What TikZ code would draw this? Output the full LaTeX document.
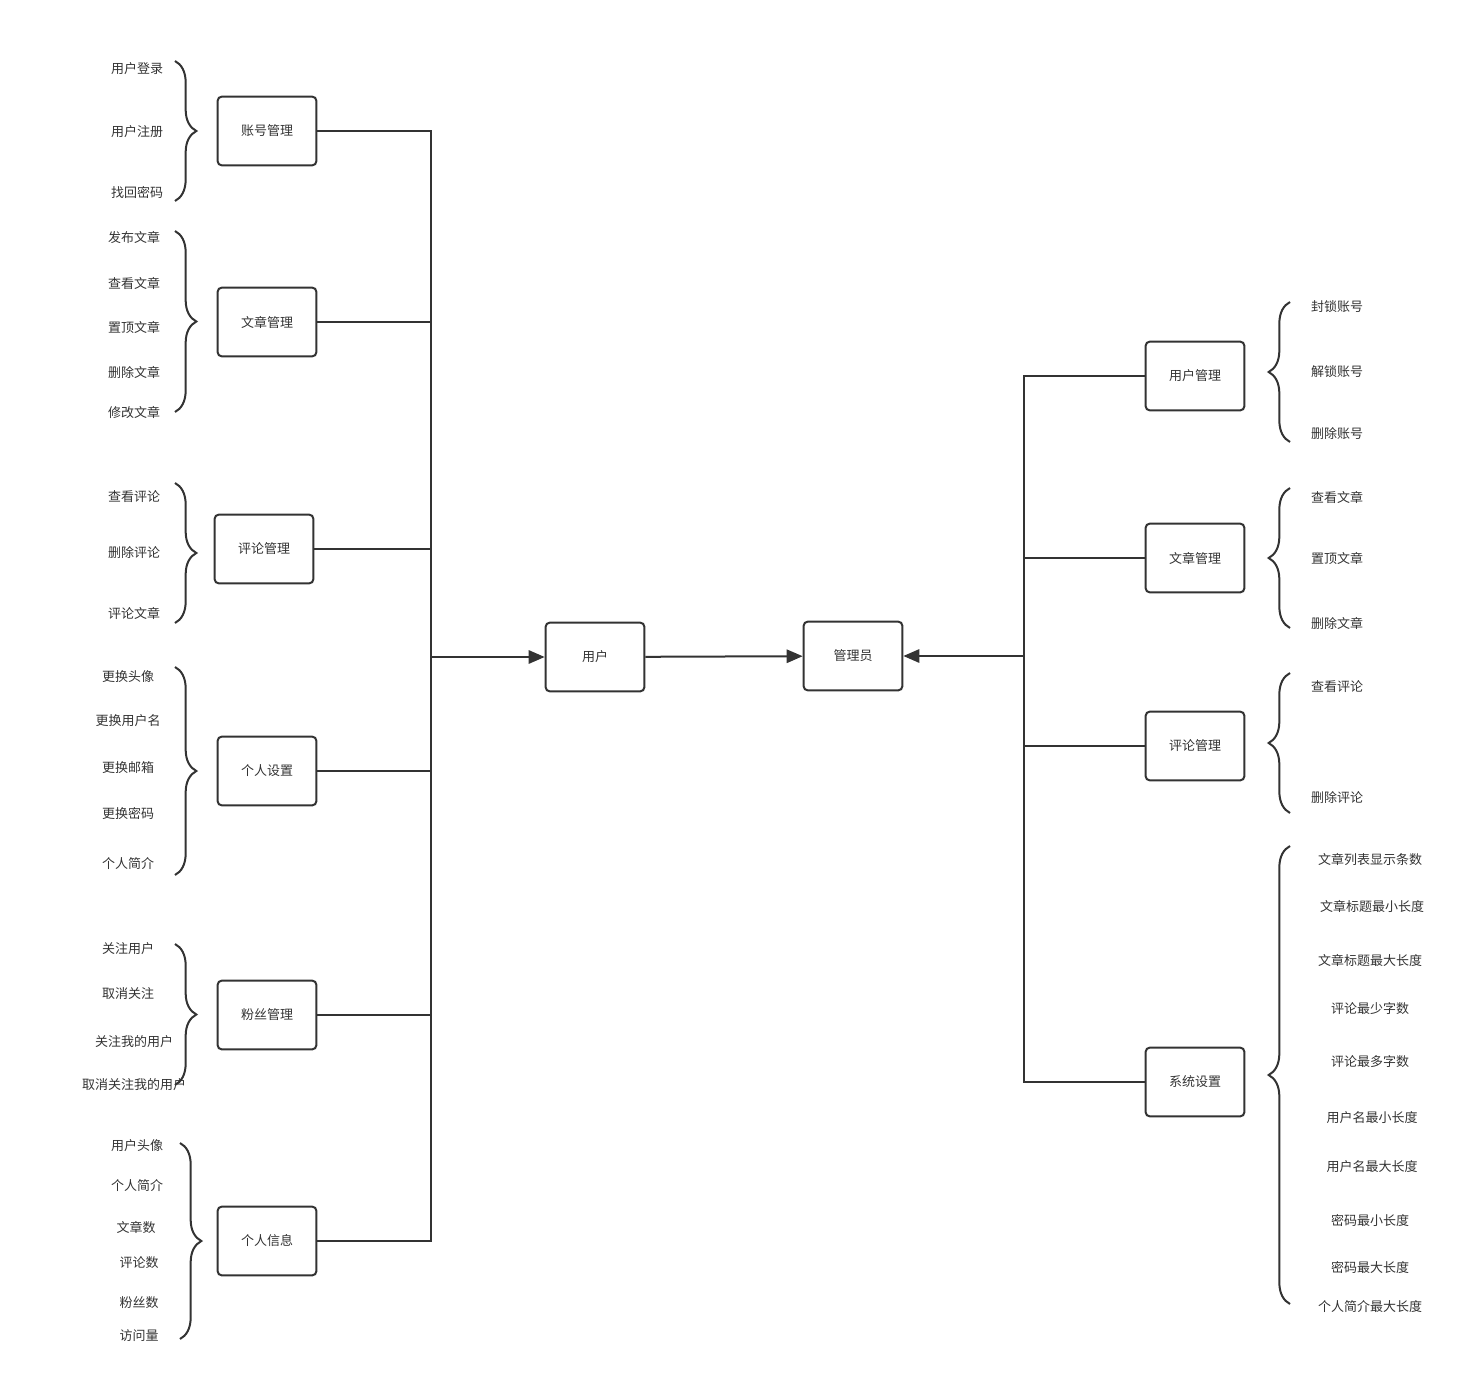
\documentclass[tikz,border=0pt]{standalone}
\usepackage{fontspec}
\setmainfont{Noto Sans CJK SC}
\usepackage{xcolor}
\usetikzlibrary{arrows.meta, decorations.pathreplacing, positioning}
\definecolor{ink}{HTML}{333333}

\begin{document}
\begin{tikzpicture}[x=0.75pt, y=-0.75pt,
        box/.style={draw=ink, line width=1.5pt, rounded corners=3pt, minimum width=74pt, minimum height=51.5pt, text=ink, font=\fontsize{9.75}{12}\selectfont},
        item/.style={text=ink, inner sep=0pt, font=\fontsize{9.75}{12}\selectfont},
        link/.style={draw=ink, line width=1.5pt},
        arr/.style={link, -{Triangle[length=12pt, width=10pt]}},
        rbrace/.style={draw=ink, line width=1.5pt, decorate, decoration={brace, amplitude=16pt}}]
    \useasboundingbox (0,0) rectangle (1484,1387);
    % centre
    \node[box] (user) at (595,657) {用户};
    \node[box] (admin) at (853,656) {管理员};
    \draw[arr] (user) -- (admin);
    % user side
    \node[box] (acct) at (267,131) {账号管理};
    \node[box] (art) at (267,322) {文章管理};
    \node[box] (cmt) at (264,549) {评论管理};
    \node[box] (set) at (267,771) {个人设置};
    \node[box] (fan) at (267,1015) {粉丝管理};
    \node[box] (info) at (267,1241) {个人信息};
    \coordinate (ltrunk) at (431,657);
    \foreach \n in {acct, art, cmt, set, fan, info}
        \draw[link] (\n.east) -| (ltrunk);
    \draw[arr] (ltrunk) -- (user.west);
    % admin side
    \node[box] (uman) at (1195,376) {用户管理};
    \node[box] (aman) at (1195,558) {文章管理};
    \node[box] (cman) at (1195,746) {评论管理};
    \node[box] (sys) at (1195,1082) {系统设置};
    \coordinate (rtrunk) at (1024,656);
    \foreach \n in {uman, aman, cman, sys}
        \draw[link] (\n.west) -| (rtrunk);
    \draw[arr] (rtrunk) -- (admin.east);
    % left items
    \foreach \t/\y [count=\i] in {用户登录/69, 用户注册/132, 找回密码/192}
        \node[item] (acct\i) at (137,\y) {\t};
    \foreach \t/\y [count=\i] in {发布文章/237, 查看文章/283, 置顶文章/327, 删除文章/372, 修改文章/412}
        \node[item] (art\i) at (134,\y) {\t};
    \foreach \t/\y [count=\i] in {查看评论/497, 删除评论/553, 评论文章/613}
        \node[item] (cmt\i) at (134,\y) {\t};
    \foreach \t/\y [count=\i] in {更换头像/677, 更换用户名/721, 更换邮箱/768, 更换密码/813, 个人简介/864}
        \node[item] (set\i) at (128,\y) {\t};
    \foreach \t/\x/\y [count=\i] in {关注用户/128/949, 取消关注/128/994, 关注我的用户/134/1042, 取消关注我的用户/134/1085}
        \node[item] (fan\i) at (\x,\y) {\t};
    \foreach \t/\x/\y [count=\i] in {用户头像/137/1146, 个人简介/137/1186, 文章数/136/1227, 评论数/139/1263, 粉丝数/139/1303, 访问量/139/1336}
        \node[item] (info\i) at (\x,\y) {\t};
    % right items
    \foreach \t/\y [count=\i] in {封锁账号/307, 解锁账号/372, 删除账号/434}
        \node[item] (uman\i) at (1337,\y) {\t};
    \foreach \t/\y [count=\i] in {查看文章/497, 置顶文章/558, 删除文章/623}
        \node[item] (aman\i) at (1337,\y) {\t};
    \foreach \t/\y [count=\i] in {查看评论/687, 删除评论/798}
        \node[item] (cman\i) at (1337,\y) {\t};
    \foreach \t/\x/\y [count=\i] in {文章列表显示条数/1370/859, 文章标题最小长度/1372/906, 文章标题最大长度/1370/960, 评论最少字数/1370/1009, 评论最多字数/1370/1062, 用户名最小长度/1372/1118, 用户名最大长度/1372/1167, 密码最小长度/1370/1220, 密码最大长度/1370/1267, 个人简介最大长度/1370/1307}
        \node[item] (sys\i) at (\x,\y) {\t};
    % braces
    \draw[rbrace] (175,61) -- (175,201);
    \draw[rbrace] (175,231) -- (175,412);
    \draw[rbrace] (175,483) -- (175,623);
    \draw[rbrace] (175,667) -- (175,875);
    \draw[rbrace] (175,944) -- (175,1085);
    \draw[rbrace] (180,1143) -- (180,1339);
    \draw[rbrace] (1290,442) -- (1290,302);
    \draw[rbrace] (1290,628) -- (1290,488);
    \draw[rbrace] (1290,813) -- (1290,673);
    \draw[rbrace] (1290,1304) -- (1290,846);
\end{tikzpicture}
\end{document}
